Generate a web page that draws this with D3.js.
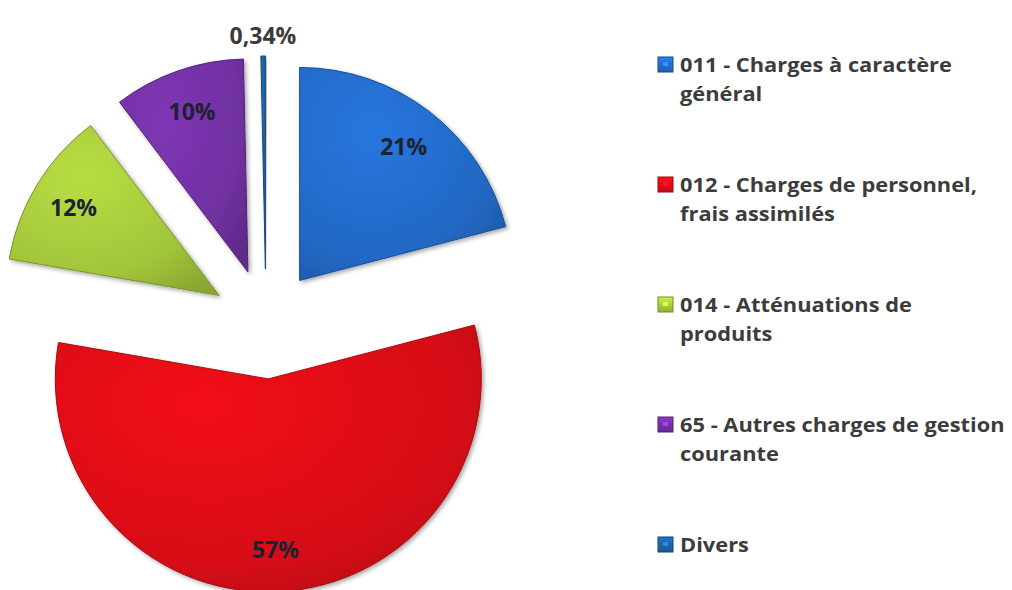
<!DOCTYPE html>
<html>
<head>
<meta charset="utf-8">
<script src="https://cdn.jsdelivr.net/npm/d3@7"></script>
<style>
  html, body { margin: 0; padding: 0; background: #ffffff; }
  svg { display: block; }
</style>
</head>
<body>
<svg id="chart" width="1012" height="590"></svg>
<script>
// ---- data ----
const categories = [
  "011 - Charges à caractère général",
  "012 - Charges de personnel, frais assimilés",
  "014 - Atténuations de produits",
  "65 - Autres charges de gestion courante",
  "Divers"
];
const legendLines = [
  ["011 - Charges à caractère", "général"],
  ["012 - Charges de personnel,", "frais assimilés"],
  ["014 - Atténuations de", "produits"],
  ["65 - Autres charges de gestion", "courante"],
  ["Divers"]
];
const values = [21, 57, 12, 10, 0.34];
const valueLabels = ["21%", "57%", "12%", "10%", "0,34%"];
const colors = ["#2268c4", "#d60d14", "#a2c43a", "#7030a0", "#1d5f9f"];

// ---- layout ----
const svg = d3.select("#chart");
const cx = 266, cy = 324, R = 213, explode = 55;

const defs = svg.append("defs");
const shadow = defs.append("filter").attr("id", "shadow")
  .attr("x", "-20%").attr("y", "-20%").attr("width", "140%").attr("height", "140%");
shadow.append("feDropShadow").attr("dx", 2).attr("dy", 2)
  .attr("stdDeviation", 2).attr("flood-color", "#000").attr("flood-opacity", 0.35);

colors.forEach((c, i) => {
  const g = defs.append("radialGradient").attr("id", "grad" + i)
    .attr("cx", "35%").attr("cy", "30%").attr("r", "85%");
  g.append("stop").attr("offset", "0%").attr("stop-color", d3.color(c).brighter(0.35));
  g.append("stop").attr("offset", "70%").attr("stop-color", c);
  g.append("stop").attr("offset", "100%").attr("stop-color", d3.color(c).darker(0.45));
  const lg = defs.append("linearGradient").attr("id", "lgrad" + i)
    .attr("x1", "0").attr("y1", "0").attr("x2", "0").attr("y2", "1");
  lg.append("stop").attr("offset", "0%").attr("stop-color", d3.color(c).brighter(0.6));
  lg.append("stop").attr("offset", "100%").attr("stop-color", d3.color(c).darker(0.3));
});

const pie = d3.pie().sort(null).value(d => d)(values);
const arc = d3.arc().innerRadius(0).outerRadius(R);
const labelArc = d3.arc().innerRadius(R * 0.8).outerRadius(R * 0.8);
const outerLabelArc = d3.arc().innerRadius(R * 1.1).outerRadius(R * 1.1);

const slices = svg.append("g").attr("transform", `translate(${cx},${cy})`);

pie.forEach((d, i) => {
  const mid = (d.startAngle + d.endAngle) / 2;
  const ox = explode * Math.sin(mid), oy = -explode * Math.cos(mid);
  const g = slices.append("g").attr("transform", `translate(${ox},${oy})`);
  g.append("path")
    .attr("d", arc(d))
    .attr("fill", `url(#grad${i})`)
    .attr("stroke", d3.color(colors[i]).darker(0.8))
    .attr("stroke-width", 1)
    .attr("stroke-linejoin", "round")
    .attr("filter", "url(#shadow)");
  const small = values[i] < 2;
  const p = small ? outerLabelArc.centroid(d) : labelArc.centroid(d);
  g.append("text")
    .attr("x", p[0]).attr("y", p[1])
    .attr("text-anchor", "middle")
    .attr("dominant-baseline", "central")
    .attr("font-family", "'Open Sans', 'DejaVu Sans', sans-serif")
    .attr("font-weight", "bold")
    .attr("font-size", 23)
    .attr("fill", small ? "#3a3a3a" : "#1b2232")
    .text(valueLabels[i]);
});

// ---- legend ----
const legend = svg.append("g");
const lx = 658, ly0 = 57, step = 120, textX = 680, lineH = 29;
const targetWidth = 272;

const tmp = legend.append("text")
  .attr("font-family", "'Open Sans', sans-serif").attr("font-weight", "bold")
  .attr("font-size", 20).text(legendLines[0][0]);
const measured = tmp.node().getComputedTextLength();
tmp.remove();
const sx = targetWidth / measured;

categories.forEach((cat, i) => {
  const y = ly0 + i * step;
  legend.append("rect")
    .attr("x", lx).attr("y", y).attr("width", 15).attr("height", 15)
    .attr("fill", `url(#lgrad${i})`)
    .attr("stroke", d3.color(colors[i]).darker(0.9)).attr("stroke-width", 1);
  legend.append("rect")
    .attr("x", lx + 5).attr("y", y + 5).attr("width", 5).attr("height", 4)
    .attr("fill", d3.color(colors[i]).brighter(1.2)).attr("opacity", 0.8);
  legendLines[i].forEach((line, j) => {
    legend.append("text")
      .attr("transform", `translate(${textX},${y + 15 + j * lineH}) scale(${sx},1)`)
      .attr("font-family", "'Open Sans', sans-serif")
      .attr("font-weight", "bold")
      .attr("font-size", 20)
      .attr("fill", "#3c3c3c")
      .text(line);
  });
});
</script>
</body>
</html>
